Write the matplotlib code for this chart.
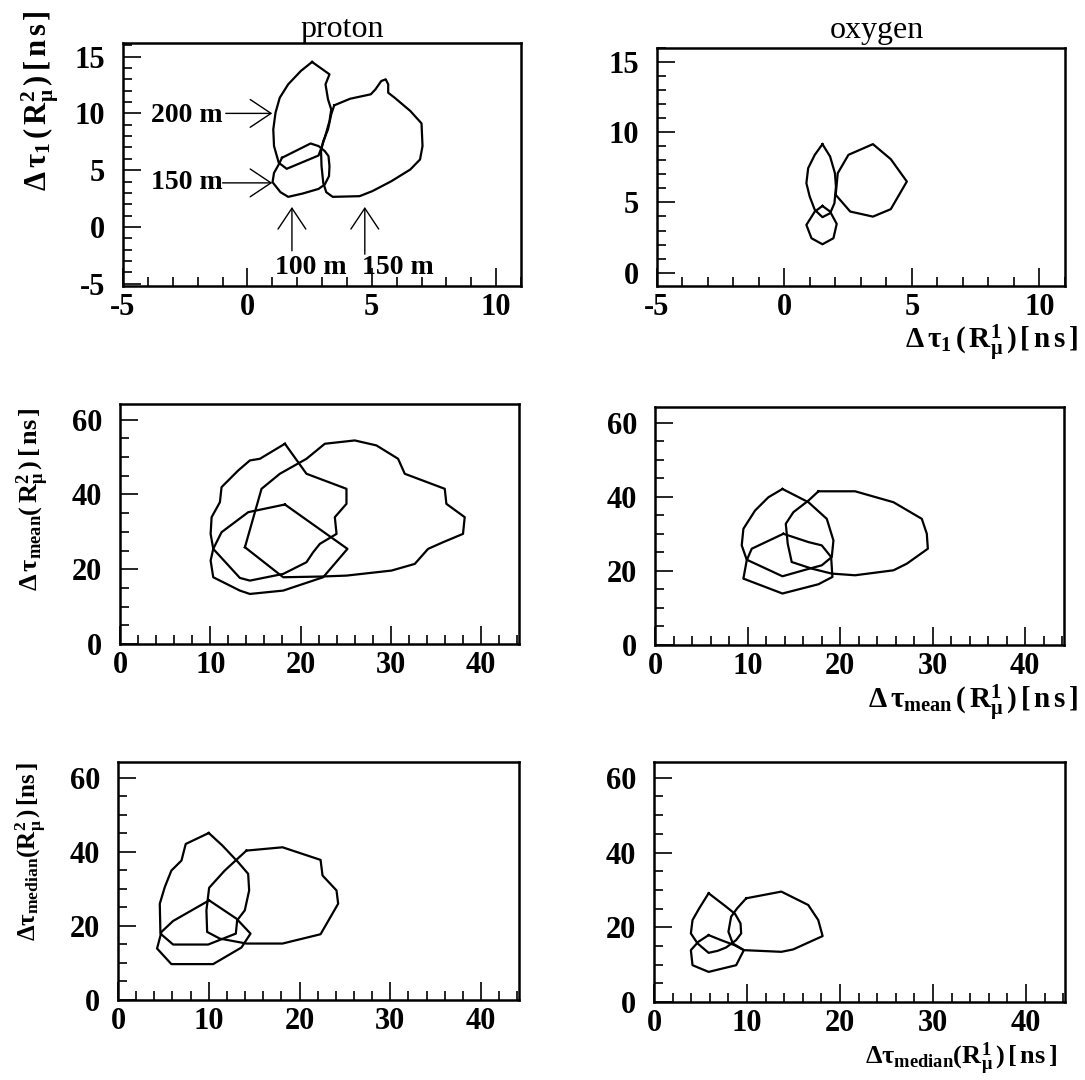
import matplotlib
matplotlib.use('Agg')
import matplotlib.pyplot as plt
from matplotlib.ticker import MultipleLocator

plt.rcParams['font.family'] = ['Liberation Serif', 'DejaVu Serif']
plt.rcParams['font.weight'] = 'bold'
plt.rcParams['axes.unicode_minus'] = False
plt.rcParams['mathtext.fontset'] = 'custom'
plt.rcParams['mathtext.rm'] = 'Liberation Serif'
plt.rcParams['mathtext.it'] = 'Liberation Serif:italic'
plt.rcParams['mathtext.bf'] = 'Liberation Serif:bold'

# ---- contour outlines (data units, ns) ----
# proton, delta tau_1
pt1_200_x = [2.60, 3.30, 3.14, 3.24, 3.37, 3.30, 3.11, 2.96, 2.86, 1.58, 1.26, 1.07, 1.04, 1.13, 1.30, 1.64, 2.15]
pt1_200_y = [14.53, 13.44, 12.56, 11.24, 10.35, 9.32, 7.85, 6.88, 6.29, 5.12, 5.65, 7.12, 8.59, 10.06, 11.38, 12.56, 13.74]
pt1_150a_x = [1.39, 2.54, 2.86, 3.11, 3.26, 3.30, 3.28, 3.11, 2.86, 2.22, 1.64, 1.33, 1.01, 1.07, 1.26]
pt1_150a_y = [6.09, 7.35, 7.12, 6.68, 6.24, 5.35, 4.47, 3.74, 3.35, 2.94, 2.65, 3.06, 3.94, 4.76, 5.50]
pt1_150b_x = [3.49, 4.13, 4.96, 5.15, 5.38, 5.56, 5.66, 5.66, 5.92, 6.55, 7.00, 7.04, 6.94, 6.55, 5.79,
              5.02, 4.51, 3.43, 3.17, 3.05, 2.98, 2.96, 3.05, 3.24, 3.37]
pt1_150b_y = [10.71, 11.29, 11.68, 12.12, 12.85, 13.00, 12.56, 11.82, 11.38, 10.21, 9.12, 7.12, 5.94, 5.06, 4.03,
              3.15, 2.71, 2.65, 3.06, 3.88, 5.35, 6.68, 7.56, 8.59, 9.91]

# oxygen, delta tau_1
ot1_a_x = [1.49, 1.79, 1.98, 2.02, 1.96, 1.79, 1.49, 1.19, 0.99, 0.86, 0.93, 1.19]
ot1_a_y = [9.15, 8.27, 7.08, 6.13, 4.94, 4.23, 3.95, 4.47, 5.42, 6.37, 7.44, 8.39]
ot1_b_x = [1.49, 1.79, 2.05, 1.92, 1.49, 1.06, 0.86, 1.19]
ot1_b_y = [4.75, 4.35, 3.47, 2.45, 2.02, 2.45, 3.40, 4.35]
ot1_c_x = [2.01, 2.09, 2.51, 3.47, 4.17, 4.80, 4.17, 3.47, 2.58]
ot1_c_y = [5.54, 7.08, 8.39, 9.15, 8.08, 6.49, 4.52, 3.99, 4.35]

# proton, delta tau_mean
pmean_a_x = [18.27, 20.66, 25.09, 25.09, 23.80, 23.99, 22.14, 21.40, 20.66, 18.08, 14.39, 13.28, 10.33,
             10.04, 10.15, 11.07, 11.25, 13.10, 14.39, 15.50]
pmean_a_y = [53.57, 45.54, 41.52, 37.50, 33.93, 29.46, 26.79, 24.55, 21.88, 18.75, 16.96, 17.68, 25.45,
             29.46, 33.93, 37.95, 41.96, 46.43, 49.11, 49.55]
pmean_b_x = [18.27, 25.20, 22.51, 18.08, 14.39, 13.28, 10.33, 10.04, 10.33, 11.25, 14.21]
pmean_b_y = [37.32, 25.45, 17.86, 14.29, 13.39, 14.29, 17.86, 22.32, 25.45, 29.91, 35.27]
pmean_c_x = [13.84, 15.68, 17.71, 20.66, 22.69, 26.01, 28.41, 30.81, 31.55, 35.98, 36.16, 38.19, 38.00,
             35.79, 34.13, 32.66, 30.07, 25.09, 22.14, 18.08]
pmean_c_y = [25.89, 41.52, 45.54, 49.55, 53.57, 54.46, 53.13, 49.55, 45.54, 41.52, 37.50, 33.93, 29.46,
             27.23, 25.45, 21.43, 19.64, 18.30, 18.04, 17.86]

# oxygen, delta tau_mean
omean_a_x = [13.77, 16.58, 18.56, 19.28, 19.10, 18.02, 16.04, 13.77, 9.91, 9.37, 9.55, 10.81, 12.25]
omean_a_y = [42.08, 38.50, 34.02, 28.20, 23.72, 21.49, 20.14, 18.53, 23.00, 26.86, 31.33, 36.26, 39.84]
omean_b_x = [13.87, 16.58, 18.02, 19.03, 19.17, 17.66, 13.77, 9.55, 9.91, 10.45]
omean_b_y = [29.99, 27.75, 26.86, 23.72, 18.35, 16.38, 13.88, 17.90, 22.83, 25.96]
omean_c_x = [17.66, 21.62, 25.77, 28.83, 29.37, 29.48, 27.21, 25.77, 21.62, 19.10, 16.94, 14.77, 14.34,
             14.13, 14.95, 16.58]
omean_c_y = [41.45, 41.45, 38.50, 34.02, 29.99, 25.96, 21.93, 20.14, 18.80, 19.25, 20.59, 22.38, 27.30,
             32.68, 35.81, 38.95]

# proton, delta tau_median
pmed_a_x = [10.00, 11.51, 13.24, 14.34, 14.45, 13.97, 13.13, 12.98, 9.93, 6.07, 4.67, 4.60, 5.15, 5.88, 6.99, 7.46]
pmed_a_y = [45.03, 41.63, 37.15, 34.02, 29.54, 24.17, 21.49, 17.90, 14.95, 14.95, 17.90, 25.96, 30.44, 34.91, 37.60, 42.08]
pmed_b_x = [10.04, 13.05, 14.60, 13.60, 10.48, 5.88, 4.30, 4.78, 6.07]
pmed_b_y = [26.86, 21.93, 17.90, 14.15, 9.67, 9.67, 13.88, 18.35, 21.31]
pmed_c_x = [14.15, 18.13, 22.32, 22.54, 24.08, 24.26, 22.32, 18.13, 14.15, 11.21, 9.82, 9.74, 10.04, 11.76]
pmed_c_y = [40.29, 41.18, 37.78, 33.57, 29.54, 25.96, 17.73, 15.22, 15.22, 16.56, 18.35, 24.17, 30.26, 34.91]

# oxygen, delta tau_median
omed_a_x = [5.87, 7.75, 8.72, 9.30, 9.37, 8.83, 7.75, 6.85, 5.87, 4.68, 3.96, 4.14, 4.86]
omed_a_y = [29.10, 25.51, 23.55, 21.04, 18.35, 16.56, 14.59, 13.70, 13.16, 15.67, 18.35, 21.93, 25.07]
omed_b_x = [5.87, 7.21, 8.65, 9.66, 8.83, 5.87, 4.14, 3.96, 4.76]
omed_b_y = [17.90, 16.56, 15.22, 13.88, 9.85, 8.06, 9.85, 13.88, 16.11]
omed_c_x = [9.91, 13.69, 16.58, 17.66, 18.13, 14.95, 13.69, 9.66, 8.47, 8.00, 8.29, 8.94]
omed_c_y = [27.75, 29.54, 25.96, 21.93, 17.64, 14.06, 13.43, 13.88, 15.67, 18.80, 22.83, 25.07]


def draw_contour(ax, xs, ys):
    # close the outline by going back to the first point
    ax.plot(list(xs) + [xs[0]], list(ys) + [ys[0]], color='k', lw=1.6, solid_joinstyle='round')


def style_axes(ax, xlim, ylim, xmaj, xmin, ymaj, ymin):
    ax.set_xlim(xlim)
    ax.set_ylim(ylim)
    ax.xaxis.set_major_locator(MultipleLocator(xmaj))
    ax.xaxis.set_minor_locator(MultipleLocator(xmin))
    ax.yaxis.set_major_locator(MultipleLocator(ymaj))
    ax.yaxis.set_minor_locator(MultipleLocator(ymin))
    ax.tick_params(which='both', direction='in', top=False, right=False, width=1.2, labelsize=22)
    ax.tick_params(which='major', length=13)
    ax.tick_params(which='minor', length=6.5)
    ax.tick_params(axis='x', pad=5)
    ax.tick_params(axis='y', pad=13)
    for s in ax.spines.values():
        s.set_linewidth(1.8)


fig = plt.figure(figsize=(10.85, 10.8), dpi=100)

ax1 = fig.add_axes([0.1134, 0.7352, 0.3668, 0.2250])
ax2 = fig.add_axes([0.6055, 0.7352, 0.3760, 0.2204])
ax3 = fig.add_axes([0.1106, 0.4037, 0.3677, 0.2222])
ax4 = fig.add_axes([0.6037, 0.4028, 0.3770, 0.2204])
ax5 = fig.add_axes([0.1088, 0.0741, 0.3696, 0.2204])
ax6 = fig.add_axes([0.6028, 0.0722, 0.3788, 0.2222])

style_axes(ax1, (-5, 11), (-5.2, 16.2), 5, 1, 5, 1)
style_axes(ax2, (-5, 11), (-0.95, 16.0), 5, 1, 5, 1)
for ax in (ax3, ax4, ax5, ax6):
    style_axes(ax, (0, 44.2), (0, 64.2), 10, 2, 20, 5)

for xs, ys in [(pt1_200_x, pt1_200_y), (pt1_150a_x, pt1_150a_y), (pt1_150b_x, pt1_150b_y)]:
    draw_contour(ax1, xs, ys)
for xs, ys in [(ot1_a_x, ot1_a_y), (ot1_b_x, ot1_b_y), (ot1_c_x, ot1_c_y)]:
    draw_contour(ax2, xs, ys)
for xs, ys in [(pmean_a_x, pmean_a_y), (pmean_b_x, pmean_b_y), (pmean_c_x, pmean_c_y)]:
    draw_contour(ax3, xs, ys)
for xs, ys in [(omean_a_x, omean_a_y), (omean_b_x, omean_b_y), (omean_c_x, omean_c_y)]:
    draw_contour(ax4, xs, ys)
for xs, ys in [(pmed_a_x, pmed_a_y), (pmed_b_x, pmed_b_y), (pmed_c_x, pmed_c_y)]:
    draw_contour(ax5, xs, ys)
for xs, ys in [(omed_a_x, omed_a_y), (omed_b_x, omed_b_y), (omed_c_x, omed_c_y)]:
    draw_contour(ax6, xs, ys)

# distance labels with open arrow heads in the proton panel
arrow = dict(arrowstyle='->,head_length=0.75,head_width=0.5', lw=1.0, color='k',
             shrinkA=0, shrinkB=0, mutation_scale=20)
ax1.text(-3.89, 9.85, '200 m', fontsize=20, ha='left', va='center')
ax1.annotate('', xy=(1.0, 10.0), xytext=(-0.87, 10.0), arrowprops=arrow)
ax1.text(-3.89, 3.88, '150 m', fontsize=20, ha='left', va='center')
ax1.annotate('', xy=(1.0, 3.88), xytext=(-1.0, 3.88), arrowprops=arrow)
ax1.text(2.55, -3.53, '100 m', fontsize=20, ha='center', va='center')
ax1.annotate('', xy=(1.79, 1.76), xytext=(1.79, -2.1), arrowprops=arrow)
ax1.text(6.04, -3.53, '150 m', fontsize=20, ha='center', va='center')
ax1.annotate('', xy=(4.72, 1.76), xytext=(4.72, -2.4), arrowprops=arrow)

ax1.text(0.55, 1.055, 'proton', transform=ax1.transAxes, fontsize=23, fontweight='normal',
         ha='center', va='center')
ax2.text(0.54, 1.075, 'oxygen', transform=ax2.transAxes, fontsize=23, fontweight='normal',
         ha='center', va='center')

# y labels (left column), x labels (right column); thin spaces mimic the wide lettering
lab_t1_y = r'$\Delta\,\mathrm{\tau}_{1}\,\mathrm{(\,R}_{\mathrm{\mu}}^{2}\,\mathrm{)}\,\mathbf{[\,n\,s\,]}$'
lab_mean_y = r'$\Delta\,\mathrm{\tau}_{\mathrm{mean}}\mathbf{(\,R}_{\mathrm{\mu}}^{2}\,\mathbf{)\,[\,ns\,]}$'
lab_med_y = r'$\Delta\mathrm{\tau}_{\mathrm{median}}\mathbf{(R}_{\mathrm{\mu}}^{2}\,\mathbf{)\,[ns\,]}$'
lab_t1_x = r'$\Delta\,\mathrm{\tau}_{1}\,\mathrm{(\,R}_{\mathrm{\mu}}^{1}\,\mathrm{)}\,\mathbf{[\,n\,s\,]}$'
lab_mean_x = r'$\Delta\,\mathrm{\tau}_{\mathrm{mean}}\,\mathbf{(\,R}_{\mathrm{\mu}}^{1}\,\mathbf{)\,[\,n\,s\,]}$'
lab_med_x = r'$\Delta\mathrm{\tau}_{\mathrm{median}}\mathbf{(R}_{\mathrm{\mu}}^{1}\,\mathbf{)\,[\,ns\,]}$'

fig.text(0.0369, 0.9907, lab_t1_y, rotation=90, fontsize=22, ha='center', va='top')
fig.text(0.0304, 0.6231, lab_mean_y, rotation=90, fontsize=19, ha='center', va='top')
fig.text(0.0286, 0.2944, lab_med_y, rotation=90, fontsize=18, ha='center', va='top')

fig.text(0.9935, 0.6825, lab_t1_x, fontsize=21, ha='right', va='center')
fig.text(0.9935, 0.3490, lab_mean_x, fontsize=21, ha='right', va='center')
fig.text(0.974, 0.0200, lab_med_x, fontsize=19, ha='right', va='center')

fig.savefig('out.png', dpi=100)
